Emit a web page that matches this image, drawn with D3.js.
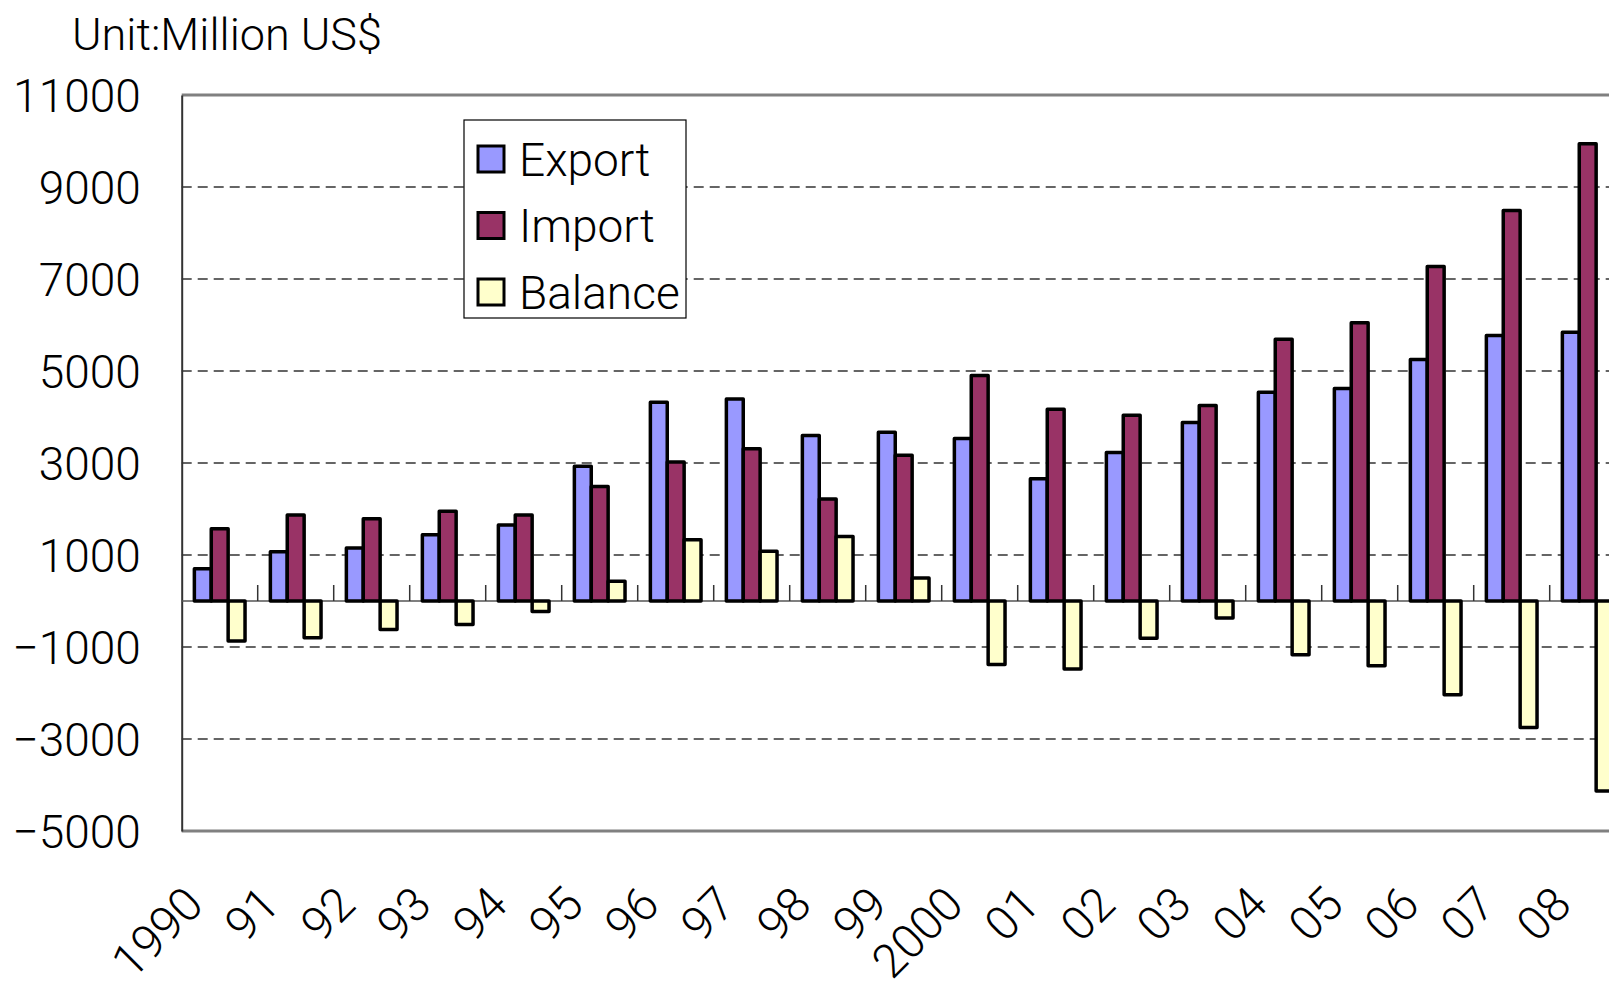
<!DOCTYPE html>
<html>
<head>
<meta charset="utf-8">
<script src="https://cdn.jsdelivr.net/npm/d3@7"></script>
<style>
  html, body { margin: 0; padding: 0; background: #fff; }
  svg text { font-family: Roboto, "Liberation Sans", Arial, sans-serif; font-weight: 300; fill: #000; }
</style>
</head>
<body>
<script>
// chart values
const years = ["1990","91","92","93","94","95","96","97","98","99","2000","01","02","03","04","05","06","07","08"];
const exportVals  = [700, 1070, 1150, 1440, 1650, 2930, 4320, 4390, 3600, 3670, 3530, 2660, 3230, 3880, 4540, 4620, 5250, 5770, 5840];
const importVals  = [1570, 1870, 1790, 1950, 1870, 2490, 3020, 3310, 2220, 3170, 4900, 4170, 4040, 4250, 5690, 6050, 7270, 8490, 9940];
const balanceVals = [-870, -800, -620, -510, -230, 430, 1330, 1080, 1400, 500, -1380, -1480, -810, -370, -1170, -1410, -2040, -2750, -4130];
const seriesNames = ["Export", "Import", "Balance"];
const seriesColors = ["#9999ff", "#993366", "#ffffcc"];
const yTicks = [11000, 9000, 7000, 5000, 3000, 1000, -1000, -3000, -5000];

const W = 1609, H = 986;
const plotL = 181.7, plotT = 95, plotB = 831, plotR = 1625.7;

const svg = d3.select("body").append("svg")
  .attr("width", W).attr("height", H);

const y = d3.scaleLinear().domain([-5000, 11000]).range([plotB, plotT]);
const x0 = d3.scaleBand().domain(years).range([plotL, plotR])
  .paddingInner(1/3).paddingOuter(1/6);
const x1 = d3.scaleBand().domain(seriesNames).range([0, x0.bandwidth()]);

// dashed gridlines
svg.append("g").selectAll("line")
  .data(yTicks.filter(d => d > -5000 && d < 11000))
  .join("line")
  .attr("x1", plotL).attr("x2", W)
  .attr("y1", d => y(d)).attr("y2", d => y(d))
  .attr("stroke", "#333").attr("stroke-width", 1.5)
  .attr("stroke-dasharray", "10,6");

// frame top / bottom
svg.append("line").attr("x1", plotL).attr("x2", W).attr("y1", plotT).attr("y2", plotT)
  .attr("stroke", "#808080").attr("stroke-width", 3);
svg.append("line").attr("x1", plotL).attr("x2", W).attr("y1", plotB).attr("y2", plotB)
  .attr("stroke", "#808080").attr("stroke-width", 3);

// left axis
const yAxis = d3.axisLeft(y).tickValues(yTicks).tickSize(0).tickPadding(0)
  .tickFormat(d => d < 0 ? "\u2212" + Math.abs(d) : String(d));
const gy = svg.append("g").attr("transform", `translate(${plotL},0)`).call(yAxis);
gy.select(".domain").attr("stroke", "#333").attr("stroke-width", 2);
gy.selectAll("text")
  .attr("x", -41)
  .attr("dy", "0.36em")
  .style("font-size", "46px")
  .style("font-family", "Roboto, 'Liberation Sans', Arial, sans-serif")
  .style("font-weight", 300);

// zero line with category ticks
svg.append("line").attr("x1", plotL).attr("x2", W).attr("y1", y(0)).attr("y2", y(0))
  .attr("stroke", "#555").attr("stroke-width", 1.5);
svg.append("g").selectAll("line")
  .data(years.slice(1))
  .join("line")
  .attr("x1", d => x0(d) - x0.step() / 6).attr("x2", d => x0(d) - x0.step() / 6)
  .attr("y1", y(0)).attr("y2", y(0) - 16)
  .attr("stroke", "#333").attr("stroke-width", 1.5);

// bars
const rows = years.map((yr, i) => ({
  year: yr,
  vals: [exportVals[i], importVals[i], balanceVals[i]]
}));
const groups = svg.append("g").selectAll("g")
  .data(rows).join("g")
  .attr("transform", d => `translate(${x0(d.year)},0)`);
groups.selectAll("rect")
  .data(d => d.vals.map((v, j) => ({ key: seriesNames[j], v, j })))
  .join("rect")
  .attr("x", d => x1(d.key))
  .attr("width", x1.bandwidth())
  .attr("y", d => y(Math.max(0, d.v)))
  .attr("height", d => Math.abs(y(d.v) - y(0)))
  .attr("fill", d => seriesColors[d.j])
  .attr("stroke", "#000").attr("stroke-width", 3.5)
  .attr("stroke-linejoin", "round");

// x labels, rotated
svg.append("g").selectAll("text")
  .data(years).join("text")
  .attr("transform", d => `translate(${x0(d) + x0.bandwidth() / 2 - 14},${plotB + 76}) rotate(-45)`)
  .attr("text-anchor", "end")
  .style("font-size", "47px")
  .text(d => d);

// unit label
svg.append("text").attr("x", 72).attr("y", 50)
  .style("font-size", "45px")
  .text("Unit:Million US$");

// legend
const lg = svg.append("g").attr("transform", "translate(464,120)");
lg.append("rect").attr("width", 222).attr("height", 198)
  .attr("fill", "#fff").attr("stroke", "#000").attr("stroke-width", 1.2);
const items = lg.selectAll("g").data(seriesNames).join("g")
  .attr("transform", (d, i) => `translate(0,${39 + i * 66.5})`);
items.append("rect").attr("x", 14).attr("y", -13).attr("width", 26).attr("height", 26)
  .attr("fill", (d, i) => seriesColors[i]).attr("stroke", "#000").attr("stroke-width", 3);
items.append("text").attr("x", 55).attr("dy", "0.36em")
  .style("font-size", "46px").text(d => d);
</script>
</body>
</html>
